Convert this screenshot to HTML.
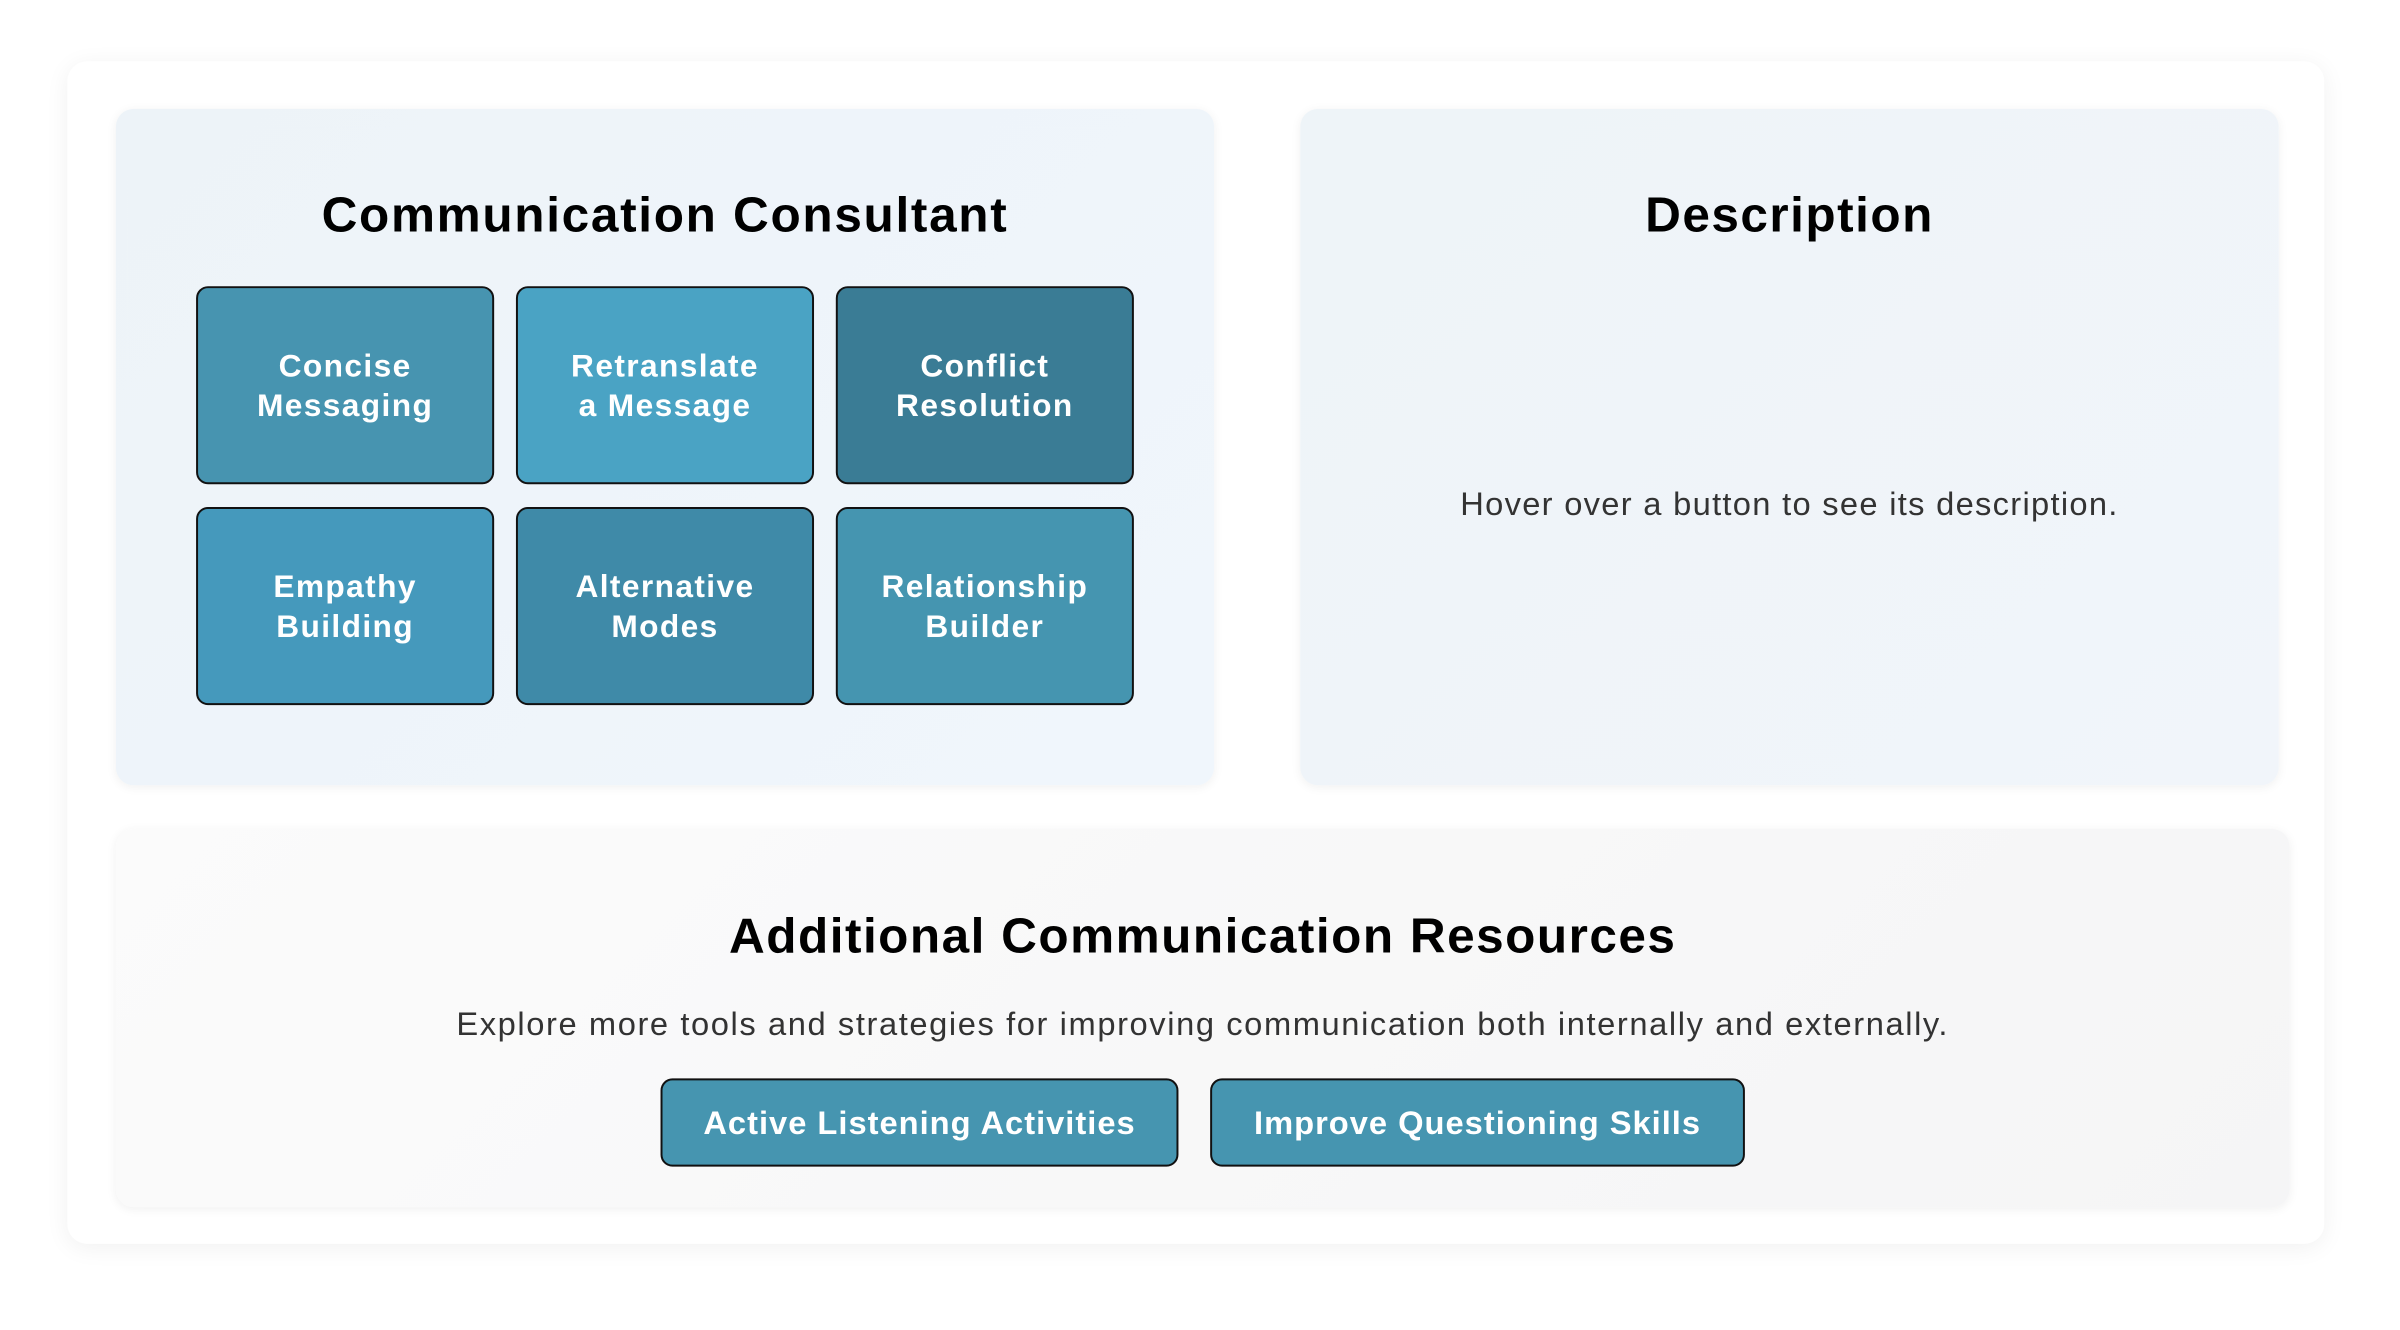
<!DOCTYPE html>
<html><head><meta charset="utf-8"><style>
body{margin:0;width:2400px;height:1330px;background:#fff;font-family:"Liberation Sans",sans-serif;position:relative;overflow:hidden}
#w{position:absolute;left:0;top:0;width:2400px;height:1330px;transform:scale(0.9903);transform-origin:0 0}
.abs{position:absolute;box-sizing:border-box}
.outer{left:68px;top:62px;width:2279px;height:1194px;background:#fff;border-radius:20px;box-shadow:0 4px 24px rgba(0,0,0,0.06)}
.panel{border-radius:18px;box-shadow:0 2px 10px rgba(0,0,0,0.06)}
.lp{left:117px;top:110px;width:1109px;height:683px;background:linear-gradient(135deg,#edf3f8,#f0f6fc)}
.rp{left:1313px;top:110px;width:988px;height:683px;background:linear-gradient(135deg,#eef4f8,#f1f5fa)}
.bp{left:117px;top:837px;width:2195px;height:382px;background:linear-gradient(135deg,#fbfbfb,#f5f5f6)}
h2{position:absolute;margin:0;font-weight:bold;font-size:50px;color:#000;text-align:center;line-height:1;letter-spacing:1.5px}
.btn{position:absolute;width:301px;height:200px;border:2px solid #111;border-radius:12px;color:#fff;font-weight:bold;font-size:32px;display:flex;align-items:center;justify-content:center;text-align:center;line-height:40px;box-sizing:border-box;letter-spacing:1.4px}
.rb{position:absolute;top:1089px;height:89px;border:2px solid #111;border-radius:12px;background:#4695b0;color:#fff;font-weight:bold;font-size:33px;display:flex;align-items:center;justify-content:center;box-sizing:border-box;letter-spacing:1px}
</style></head><body><div id="w">
<div class="abs outer"></div>
<div class="abs panel lp"></div>
<div class="abs panel rp"></div>
<div class="abs panel bp"></div>
<h2 style="left:117px;width:1109px;top:192px;letter-spacing:1.7px">Communication Consultant</h2>
<div class="btn" style="left:198px;top:289px;background:#4794b0">Concise<br>Messaging</div>
<div class="btn" style="left:521px;top:289px;background:#4aa3c4">Retranslate<br>a Message</div>
<div class="btn" style="left:844px;top:289px;background:#3a7c95">Conflict<br>Resolution</div>
<div class="btn" style="left:198px;top:512px;background:#4599bc">Empathy<br>Building</div>
<div class="btn" style="left:521px;top:512px;background:#3f8aa8">Alternative<br>Modes</div>
<div class="btn" style="left:844px;top:512px;background:#4595b0">Relationship<br>Builder</div>
<h2 style="left:1313px;width:988px;top:192px">Description</h2>
<div class="abs" style="left:1313px;width:988px;top:490px;text-align:center;font-size:33px;color:#333;letter-spacing:1.3px">Hover over a button to see its description.</div>
<h2 style="left:117px;width:2195px;top:920px">Additional Communication Resources</h2>
<div class="abs" style="left:117px;width:2195px;top:1015px;text-align:center;font-size:33px;color:#333;letter-spacing:1.6px">Explore more tools and strategies for improving communication both internally and externally.</div>
<div class="rb" style="left:667px;width:523px">Active Listening Activities</div>
<div class="rb" style="left:1222px;width:540px">Improve Questioning Skills</div>
</div></body></html>
